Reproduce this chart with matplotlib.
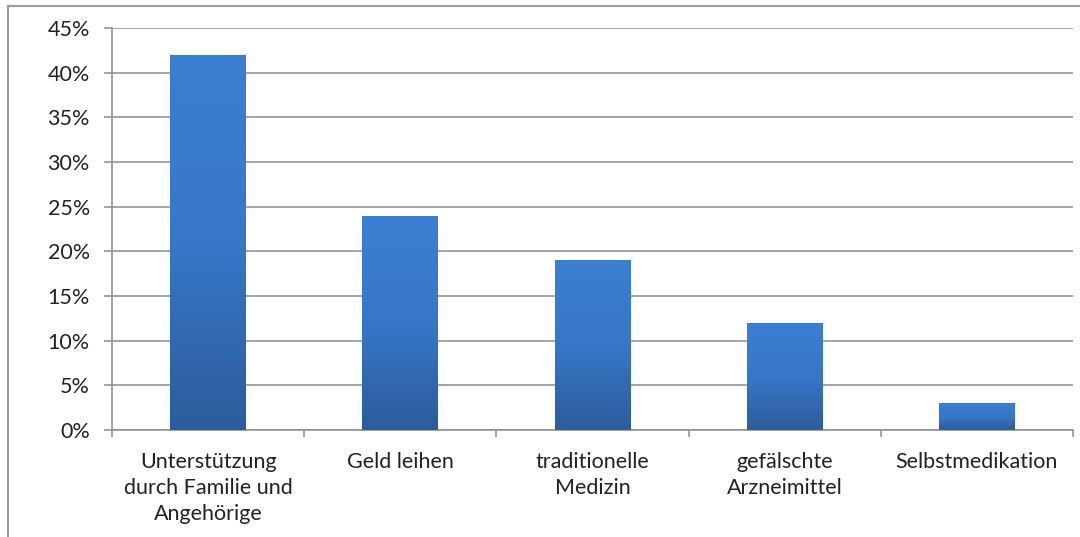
import matplotlib
matplotlib.use("Agg")
import matplotlib.pyplot as plt
import numpy as np
from matplotlib.lines import Line2D
from matplotlib.colors import LinearSegmentedColormap

categories = ["Unterstützung\ndurch Familie und\nAngehörige", "Geld leihen",
              "traditionelle\nMedizin", "gefälschte\nArzneimittel", "Selbstmedikation"]
values = [42, 24, 19, 12, 3]
yticks = [0, 5, 10, 15, 20, 25, 30, 35, 40, 45]
ytick_labels = [f"{t}%" for t in yticks]

plt.rcParams['font.family'] = ['Lato', 'DejaVu Sans']

W, H = 1080, 537
fig = plt.figure(figsize=(W / 100, H / 100), dpi=100)
ax = fig.add_axes([112 / W, 1 - 430 / H, (1073 - 112) / W, (430 - 28) / H])

n = len(categories)
x = np.arange(n)
bw = 0.395
cmap = LinearSegmentedColormap.from_list("g", ["#2c5c9b", "#3777c8", "#3b7fd3"])
grad = np.linspace(0, 1, 256).reshape(-1, 1)
bars = ax.bar(x, values, width=bw, color="none", zorder=3)
for b in bars:
    x0, w, h = b.get_x(), b.get_width(), b.get_height()
    im = ax.imshow(grad, cmap=cmap, origin="lower", aspect="auto",
                   extent=(x0, x0 + w, 0, h), zorder=3)
    im.set_clip_path(b)

fs = 15.5
ax.set_xlim(-0.5, n - 0.5)
ax.set_ylim(0, 45)
ax.set_yticks(yticks)
ax.set_yticklabels(ytick_labels, fontsize=fs, color="#222222")
ax.yaxis.grid(True, color="#8c8c8c", linewidth=1.1, zorder=0)
ax.set_axisbelow(True)

ax.set_xticks(np.arange(-0.5, n, 1.0))
ax.set_xticklabels([])
ax.tick_params(axis="x", length=5, color="#8c8c8c", width=1.1, direction="out")
ax.tick_params(axis="y", length=6, color="#8c8c8c", width=1.1, direction="out", pad=10)
for i, c in enumerate(categories):
    ax.text(i, -2.5, c, ha="center", va="top", fontsize=fs, color="#222222",
            linespacing=1.38)

for s in ["top", "right"]:
    ax.spines[s].set_visible(False)
for s in ["left", "bottom"]:
    ax.spines[s].set_color("#8c8c8c")
    ax.spines[s].set_linewidth(1.1)

# outer frame (left and top edges)
fig.add_artist(Line2D([7.5 / W, 7.5 / W], [0, 1 - 6 / H], transform=fig.transFigure,
                      color="#9a9a9a", linewidth=1.5))
fig.add_artist(Line2D([7.5 / W, 1], [1 - 6 / H, 1 - 6 / H], transform=fig.transFigure,
                      color="#9a9a9a", linewidth=1.5))

fig.savefig("out.png", dpi=100)
